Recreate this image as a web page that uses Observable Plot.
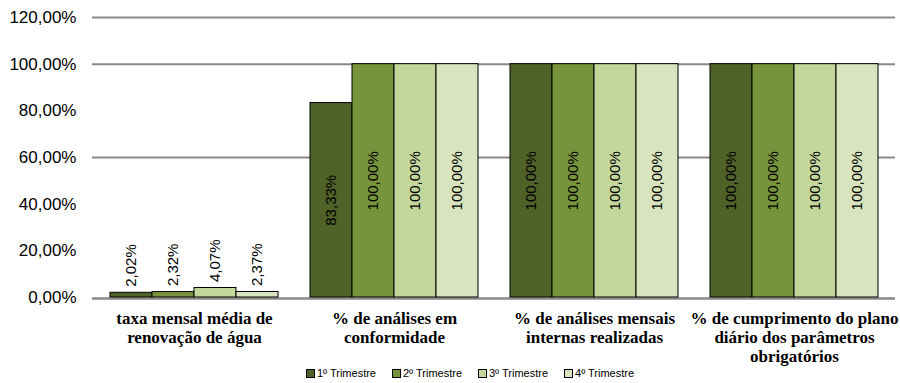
<!DOCTYPE html>
<html>
<head>
<meta charset="utf-8">
<script src="https://cdn.jsdelivr.net/npm/d3@7"></script>
<script src="https://cdn.jsdelivr.net/npm/@observablehq/plot@0.6"></script>
<style>
  html, body { margin: 0; padding: 0; background: #fff; }
  #wrap { width: 900px; height: 383px; position: relative; }
  #chart { position: relative; width: 900px; height: 383px; }
  #chart svg { position: absolute; left: 0; top: 0; }
  #legend { position: absolute; left: 0; top: 365px; width: 900px; display: flex; justify-content: center; gap: 16px; font: 11px "Liberation Sans", Arial, sans-serif; color: #000; height: 16px; align-items: center; padding-left: 40px; box-sizing: border-box; }
  #legend .item { display: flex; align-items: center; gap: 2px; }
  #legend .sw { width: 7px; height: 7px; border: 1px solid #000; display: inline-block; }
</style>
</head>
<body>
<div id="wrap"><div id="chart"></div><div id="legend"></div></div>
<script>
const groups = [
  "taxa mensal média de renovação de água",
  "% de análises em conformidade",
  "% de análises mensais internas realizadas",
  "% de cumprimento do plano diário dos parâmetros obrigatórios"
];
const groupLabels = [
  "taxa mensal média de\nrenovação de água",
  "% de análises em\nconformidade",
  "% de análises mensais\ninternas realizadas",
  "% de cumprimento do plano\ndiário dos parâmetros\nobrigatórios"
];
const quarters = ["1º Trimestre", "2º Trimestre", "3º Trimestre", "4º Trimestre"];
const q1 = [2.02, 83.33, 100, 100];
const q2 = [2.32, 100, 100, 100];
const q3 = [4.07, 100, 100, 100];
const q4 = [2.37, 100, 100, 100];
const colors = ["#4f6228", "#77933c", "#c3d69b", "#d7e4bd"];
const yTicks = [0, 20, 40, 60, 80, 100, 120];
const gridTicks = [60, 100, 120];

const series = [q1, q2, q3, q4];
const data = [];
groups.forEach((g, gi) => series.forEach((s, qi) => data.push({group: g, quarter: quarters[qi], value: s[gi]})));
const fmt = v => v.toFixed(2).replace(".", ",") + "%";
const sans = "Liberation Sans, Arial, sans-serif";

const common = {
  width: 900,
  height: 383,
  marginLeft: 92,
  marginRight: 5,
  marginTop: 17,
  marginBottom: 86,
  y: {domain: [0, 120], axis: null}
};

// background layer: grid lines, baseline and y axis
const base = Plot.plot({
  ...common,
  style: {background: "#fff"},
  marks: [
    Plot.ruleY(gridTicks, {stroke: "#888", strokeWidth: 2}),
    Plot.ruleY([0], {stroke: "#888", strokeWidth: 2.5, dy: 1}),
    Plot.axisY({ticks: yTicks, tickFormat: fmt, tickSize: 0, tickPadding: 16, fontSize: 17, fontFamily: sans, label: null, color: "#000"})
  ]
});

// foreground layer: bars, labels, categories
const front = Plot.plot({
  ...common,
  style: {background: "transparent"},
  fx: {domain: groups, paddingInner: 0.15, paddingOuter: 0.075, label: null},
  x: {domain: quarters, padding: 0, axis: null},
  color: {domain: quarters, range: colors},
  marks: [
    Plot.barY(data, {fx: "group", x: "quarter", y: "value", fill: "quarter", stroke: "#000", strokeWidth: 1}),
    Plot.text(data.filter(d => d.value > 10), {fx: "group", x: "quarter", y: d => d.value / 2, text: d => fmt(d.value), rotate: -90, fontSize: 15, fontFamily: sans, fill: "#000"}),
    Plot.text(data.filter(d => d.value <= 10), {fx: "group", x: "quarter", y: "value", text: d => fmt(d.value), rotate: -90, textAnchor: "start", dy: -6, fontSize: 15, fontFamily: sans, fill: "#000"}),
    Plot.axisFx({anchor: "bottom", tickSize: 0, tickPadding: 13, tickFormat: g => groupLabels[groups.indexOf(g)], fontSize: 17, fontWeight: "bold", fontFamily: "Liberation Serif, Times New Roman, serif", lineHeight: 1.12, label: null, color: "#000"})
  ]
});

const chartDiv = document.getElementById("chart");
chartDiv.appendChild(base);
chartDiv.appendChild(front);

const legend = document.getElementById("legend");
quarters.forEach((q, i) => {
  const item = document.createElement("span");
  item.className = "item";
  const sw = document.createElement("span");
  sw.className = "sw";
  sw.style.background = colors[i];
  item.appendChild(sw);
  item.appendChild(document.createTextNode(q));
  legend.appendChild(item);
});
</script>
</body>
</html>
